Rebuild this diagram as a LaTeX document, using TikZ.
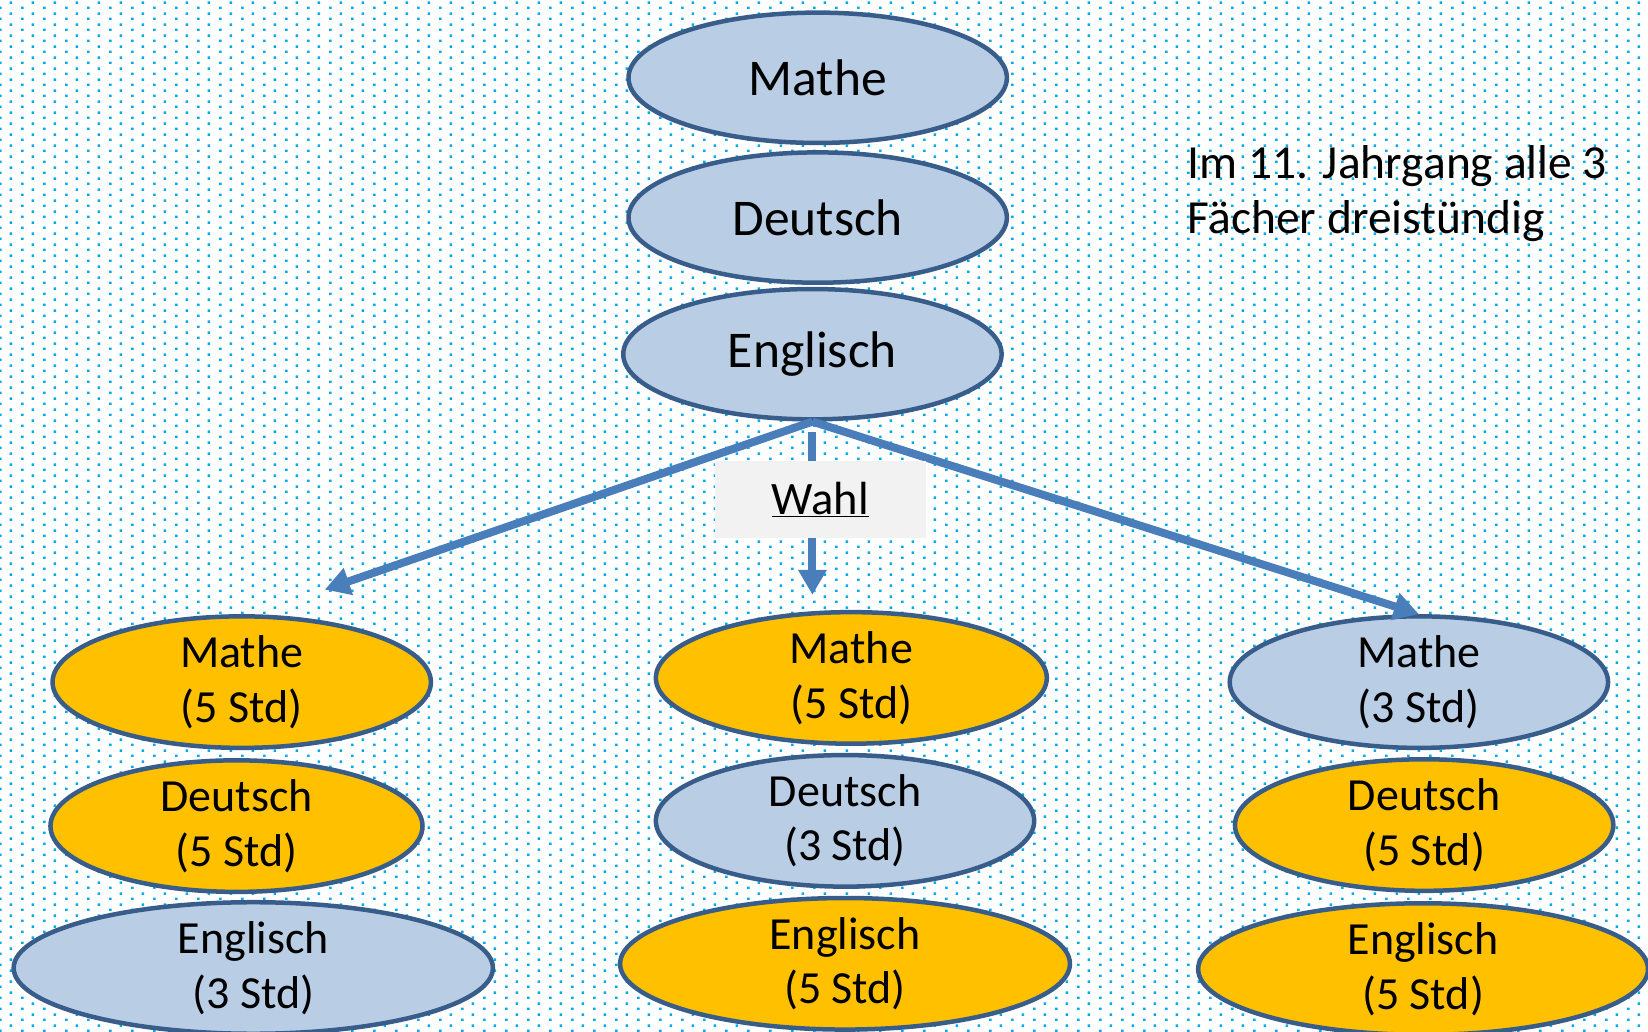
\documentclass[tikz,border=0pt]{standalone}
\usepackage{fontspec}
\setmainfont{Carlito}
\usetikzlibrary{shapes.geometric,arrows.meta,patterns}
\definecolor{dotc}{HTML}{00AAEC}
\definecolor{edge}{HTML}{385D8A}
\definecolor{bfill}{HTML}{B9CDE5}
\definecolor{ofill}{HTML}{FFC000}
\definecolor{arrc}{HTML}{4A7EBB}
\definecolor{wahlbg}{HTML}{F2F2F2}
\pgfdeclarepatternformonly{dotgrid}{\pgfpointorigin}{\pgfpoint{22pt}{11pt}}{\pgfpoint{22pt}{11pt}}{%
  \pgfpathrectangle{\pgfpoint{0pt}{0pt}}{\pgfpoint{2.7pt}{2.7pt}}%
  \pgfpathrectangle{\pgfpoint{11pt}{5.5pt}}{\pgfpoint{2.7pt}{2.7pt}}%
  \pgfusepath{fill}}
\tikzset{
  ell/.style={ellipse, draw=edge, line width=4.5pt, inner sep=0pt, align=center},
  sz/.style 2 args={minimum width=#1*1.051pt, minimum height=#2*1.051pt},
  bluef/.style={fill=bfill},
  orngf/.style={fill=ofill},
  bigtxt/.style={font=\fontsize{51.5}{60}\selectfont},
  smalltxt/.style={font=\fontsize{46}{54.7}\selectfont},
  arr/.style={draw=arrc, line width=8pt, -{Triangle[width=27pt,length=25pt]}},
}
\begin{document}
\begin{tikzpicture}[x=1.051pt,y=-1.051pt]
\fill[white] (0,0) rectangle (1568,981);
\fill[pattern=dotgrid, pattern color=dotc] (0,0) rectangle (1568,981);
\useasboundingbox (0,0) rectangle (1568,981);

% top column
\node[ell,bluef,bigtxt,sz={360}{124}] (tm) at (778,74) {Mathe};
\node[ell,bluef,bigtxt,sz={360}{124}] (td) at (778,207) {Deutsch};
\node[ell,bluef,bigtxt,sz={360}{124}] (te) at (773,337) {Englisch};

% left column
\node[ell,orngf,smalltxt,sz={360}{124}] (lm) at (230,649) {Mathe\\(5 Std)};
\node[ell,orngf,smalltxt,sz={354}{124}] (ld) at (225,786) {Deutsch\\(5 Std)};
\node[ell,bluef,smalltxt,sz={456}{124}] (le) at (241,921) {Englisch\\(3 Std)};

% middle column
\node[ell,orngf,smalltxt,sz={372}{124}] (mm) at (810,645) {Mathe\\(5 Std)};
\node[ell,bluef,smalltxt,sz={360}{124}] (md) at (804,781) {Deutsch\\(3 Std)};
\node[ell,orngf,smalltxt,sz={428}{124}] (me) at (804,917) {Englisch\\(5 Std)};

% right column
\node[ell,bluef,smalltxt,sz={360}{124}] (rm) at (1350,649) {Mathe\\(3 Std)};
\node[ell,orngf,smalltxt,sz={360}{124}] (rd) at (1355,785) {Deutsch\\(5 Std)};
\node[ell,orngf,smalltxt,sz={428}{124}] (re) at (1354,922) {Englisch\\(5 Std)};

% note
\node[anchor=base west, align=left, inner sep=0pt, font=\fontsize{47.5}{54.7}\selectfont] (note) at (1130,222) {Im 11. Jahrgang alle 3\\Fächer dreistündig};

% arrows
\coordinate (lt) at (309,561);
\coordinate (mt) at (773,566);
\draw[arr] (te.south) -- (lt);
\draw[arr] (te.south) -- (rm.north);
\draw[arr, shorten <=10pt] (te.south) -- (mt);

% Wahl label
\node[fill=wahlbg, sz={201}{73}, inner sep=0pt, font=\fontsize{46.5}{50}\selectfont] (wahl) at (780.5,475.5) {\underline{Wahl}};
\end{tikzpicture}
\end{document}
